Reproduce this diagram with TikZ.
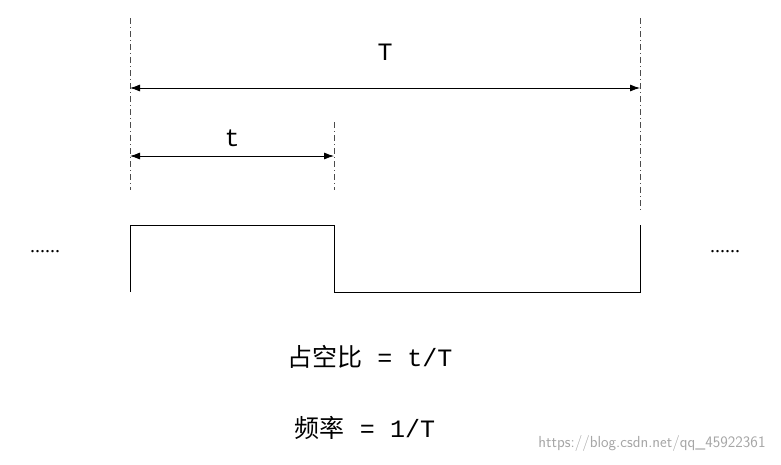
\documentclass[tikz,border=0pt]{standalone}
\usepackage{fontspec}
\setmainfont{Liberation Mono}
\newfontfamily\cjk{Noto Sans CJK SC}
\newfontfamily\serif{Liberation Serif}
\usetikzlibrary{arrows.meta}
\begin{document}
\begin{tikzpicture}[x=1pt,y=-1pt,
  guide/.style={draw=black!70,dash pattern=on 6pt off 3pt on 1pt off 3pt,thin},
  dim/.style={draw,{Latex[length=10pt,width=7pt]}-{Latex[length=10pt,width=7pt]},thick},
  lbl/.style={font=\fontsize{25}{27}\selectfont}]
\useasboundingbox (0,0) rectangle (781,464);
\coordinate (g1a) at (130,18); \coordinate (g1b) at (130,190);
\coordinate (g2a) at (334,122); \coordinate (g2b) at (334,190);
\coordinate (g3a) at (640,18); \coordinate (g3b) at (640,210);
\draw[guide] (g1a) -- (g1b);
\draw[guide] (g2a) -- (g2b);
\draw[guide] (g3a) -- (g3b);
\coordinate (Ta) at (130,88); \coordinate (Tb) at (640,88);
\coordinate (ta) at (130,156); \coordinate (tb) at (334,156);
\draw[dim] (Ta) -- (Tb);
\draw[dim] (ta) -- (tb);
\node[lbl] (T) at (385,52) {T};
\node[lbl] (t) at (232,138) {t};
\coordinate (p0) at (130,292); \coordinate (p1) at (130,225);
\coordinate (p2) at (334,225); \coordinate (p3) at (334,292);
\coordinate (p4) at (640,292); \coordinate (p5) at (640,225);
\draw[thin] (p0) -- (p1) -- (p2) -- (p3) -- (p4) -- (p5);
\node[font=\serif\fontsize{20}{22}\selectfont] (dl) at (45,252) {......};
\node[font=\serif\fontsize{20}{22}\selectfont] (dr) at (725,252) {......};
\node[lbl] (duty) at (370,357) {{\cjk 占空比} = t/T};
\node[lbl] (freq) at (365,428) {{\cjk 频率} = 1/T};
\node[font=\fontsize{16}{18}\selectfont\sffamily,text=black!35] (wm) at (652,443) {https://blog.csdn.net/qq\_45922361};
\end{tikzpicture}
\end{document}
